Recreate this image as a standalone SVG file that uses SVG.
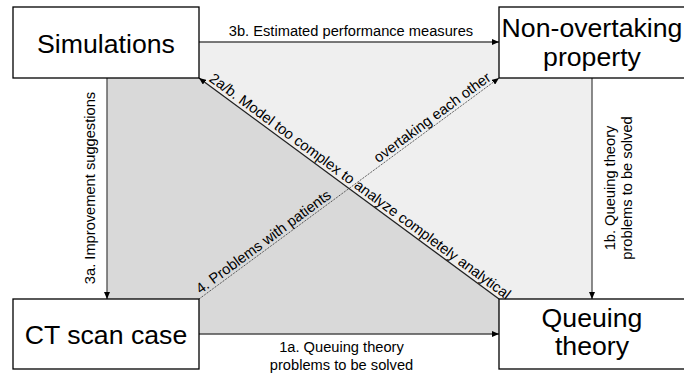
<svg xmlns="http://www.w3.org/2000/svg" width="684" height="378" viewBox="0 0 684 378">
<style>
.box{fill:#fff;stroke:#000;stroke-width:1.3}
.node{font-family:"Liberation Sans",Arial,sans-serif;font-size:26.67px;fill:#000;text-anchor:middle}
.lbl{font-family:"Liberation Sans",Arial,sans-serif;font-size:14.67px;fill:#000}
.c{stroke:#4d4d4d;stroke-width:1.3;fill:none}
.dot{stroke:#333;stroke-width:1;stroke-dasharray:1 1;fill:none}
</style>
<defs>
<marker id="ah" markerUnits="userSpaceOnUse" markerWidth="7" markerHeight="6" refX="7" refY="3" orient="auto">
<path d="M0,0 L7,3 L0,6 z" fill="#000"/>
</marker>
</defs>
<rect x="107" y="42" width="485" height="292" fill="#efefef"/>
<polygon points="107,78 199,78 499,299 499,334 107,334" fill="#d9d9d9"/>
<g id="connectors">
<line class="c" x1="199" y1="42" x2="499" y2="42" marker-end="url(#ah)"/>
<line class="c" x1="107" y1="78" x2="107" y2="299" marker-end="url(#ah)"/>
<line class="c" x1="592" y1="78" x2="592" y2="299" marker-end="url(#ah)"/>
<line class="c" x1="199" y1="334" x2="499" y2="334" marker-end="url(#ah)"/>
<line class="c" x1="499" y1="299" x2="199" y2="78" marker-end="url(#ah)" style="stroke:#222"/>
<line class="dot" x1="199" y1="299" x2="499" y2="78" marker-end="url(#ah)"/>
</g>
<g id="simulations">
<rect class="box" x="13" y="7" width="186" height="71"/>
<text class="node" x="106" y="53">Simulations</text>
</g>
<g id="non-overtaking">
<rect class="box" x="499" y="7" width="186" height="71"/>
<text class="node" x="592" y="37">Non-overtaking</text>
<text class="node" x="592" y="66">property</text>
</g>
<g id="ct-scan">
<rect class="box" x="13" y="299" width="186" height="70"/>
<text class="node" x="106" y="344">CT scan case</text>
</g>
<g id="queuing">
<rect class="box" x="499" y="299" width="186" height="70"/>
<text class="node" x="592" y="327">Queuing</text>
<text class="node" x="592" y="355">theory</text>
</g>
<g id="labels">
<text class="lbl" x="351" y="36" text-anchor="middle">3b. Estimated performance measures</text>
<text class="lbl" x="341.5" y="352" text-anchor="middle">1a. Queuing theory</text>
<text class="lbl" x="341.5" y="370" text-anchor="middle">problems to be solved</text>
<g transform="translate(95,188) rotate(-90)"><text class="lbl" x="0" y="0" text-anchor="middle">3a. Improvement suggestions</text></g>
<g transform="translate(615,188) rotate(-90)"><text class="lbl" x="0" y="0" text-anchor="middle">1b. Queuing theory</text><text class="lbl" x="0" y="17" text-anchor="middle">problems to be solved</text></g>
<g transform="translate(199,78) rotate(36.38)"><text class="lbl" x="9" y="-3.5">2a/b. Model too complex to analyze completely analytical</text></g>
<g transform="translate(199,299) rotate(-36.38)"><text class="lbl" x="4" y="-3">4. Problems with patients</text><text class="lbl" x="225" y="-3">overtaking each other</text></g>
</g>
</svg>
